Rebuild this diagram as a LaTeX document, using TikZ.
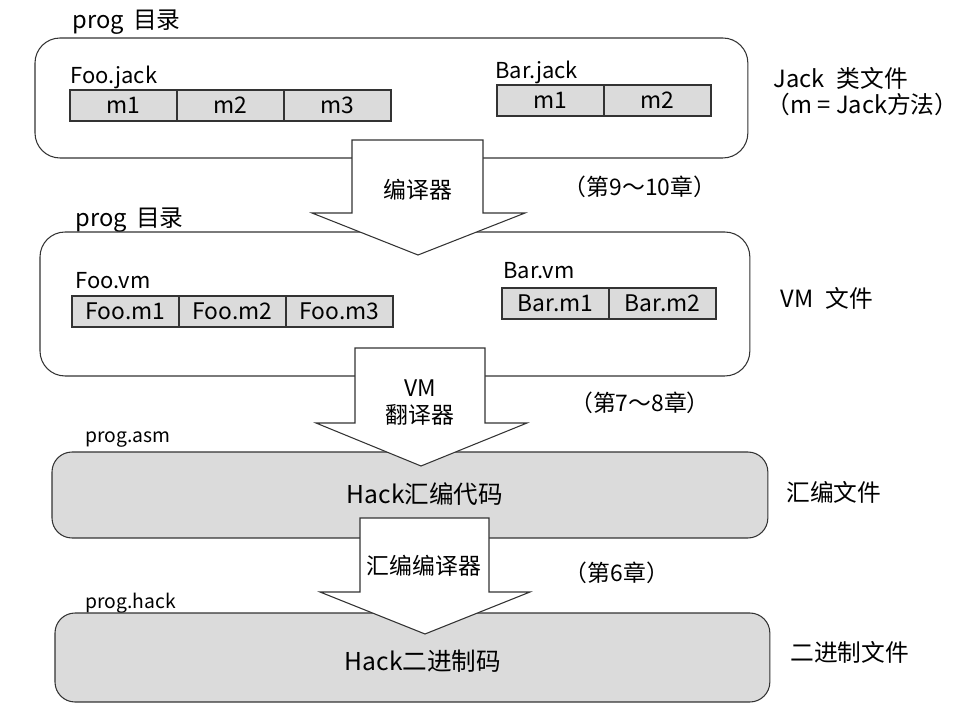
\documentclass[tikz,border=0pt]{standalone}
\usepackage{fontspec}
\setmainfont{Noto Sans CJK SC}
\begin{document}
\begin{tikzpicture}[x=0.02cm,y=-0.02cm,line width=0.6pt,
	box/.style={draw=black!80,rounded corners=0.5cm,anchor=north west,inner sep=0pt,outer sep=0pt},
	cell/.style={draw=black!80,fill=gray!28,anchor=north west,inner sep=0pt,outer sep=0pt,
		minimum width=2.14cm,minimum height=0.62cm,font=\fontsize{13}{14}\selectfont},
	lbl/.style={anchor=west,inner sep=0pt,font=\fontsize{12.5}{14}\selectfont},
	title/.style={anchor=west,inner sep=0pt,font=\fontsize{13.5}{16}\selectfont},
	small/.style={anchor=west,inner sep=0pt,font=\fontsize{11}{13}\selectfont},
	side/.style={anchor=west,inner sep=0pt,font=\fontsize{13.5}{16}\selectfont},
	bigarrow/.style={draw=black!80,fill=white,line join=miter},
	word/.style={inner sep=0pt,font=\fontsize{13}{16}\selectfont}]
	\useasboundingbox (0,0) rectangle (970,714);
	\def \cw {107}
	% Jack files
	\node[title] (dir1) at (72,22) {prog\, 目录};
	\node[box,minimum width=14.26cm,minimum height=2.4cm] (jack) at (35,38) {};
	\node[lbl] (foojack) at (70,77) {Foo.jack};
	\node[cell] (fj1) at (70,90) {m1};
	\node[cell] (fj2) at (70+\cw,90) {m2};
	\node[cell] (fj3) at (70+2*\cw,90) {m3};
	\node[lbl] (barjack) at (495,72) {Bar.jack};
	\node[cell] (bj1) at (497,85) {m1};
	\node[cell] (bj2) at (497+\cw,85) {m2};
	\node[side] (jackside) at (773,78) {Jack\enspace 类文件};
	\node[side] (jackm) at (766,104) {（m = Jack方法）};
	% VM files
	\node[title] (dir2) at (75,220) {prog\, 目录};
	\node[box,minimum width=14.2cm,minimum height=2.88cm] (vm) at (40,232) {};
	\node[lbl] (foovm) at (75,281) {Foo.vm};
	\node[cell] (fv1) at (72,296) {Foo.m1};
	\node[cell] (fv2) at (72+\cw,296) {Foo.m2};
	\node[cell] (fv3) at (72+2*\cw,296) {Foo.m3};
	\node[lbl] (barvm) at (503,271) {Bar.vm};
	\node[cell] (bv1) at (502,288) {Bar.m1};
	\node[cell] (bv2) at (502+\cw,288) {Bar.m2};
	\node[side] (vmside) at (780,298) {VM\enspace 文件};
	% asm file
	\node[small] (asmname) at (85,440) {prog.asm};
	\node[box,fill=gray!28,rounded corners=0.4cm,minimum width=14.32cm,minimum height=1.72cm] (asm) at (52,452) {};
	\node[word,font=\fontsize{14}{16}\selectfont] (asmtext) at (425,494) {Hack汇编代码};
	\node[side] (asmside) at (786,492) {汇编文件};
	% hack file
	\node[small] (hackname) at (85,603) {prog.hack};
	\node[box,fill=gray!28,rounded corners=0.4cm,minimum width=14.3cm,minimum height=1.78cm] (hack) at (55,613) {};
	\node[word,font=\fontsize{14}{16}\selectfont] (hacktext) at (423,661) {Hack二进制码};
	\node[side] (hackside) at (790,652) {二进制文件};
	% arrows
	\draw[bigarrow] (352,140) -- (483,140) -- (483,213) -- (525,213) -- (418,255) -- (312,213) -- (352,213) -- cycle;
	\node[word] (comp) at (418,190) {编译器};
	\node[word] (ch1) at (640,187) {（第9～10章）};
	\draw[bigarrow] (355,348) -- (485,348) -- (485,423) -- (527,423) -- (421,466) -- (316,423) -- (355,423) -- cycle;
	\node[word] (vmtr1) at (420,388) {VM};
	\node[word] (vmtr2) at (420,415) {翻译器};
	\node[word] (ch2) at (640,403) {（第7～8章）};
	\draw[bigarrow] (360,518) -- (489,518) -- (489,592) -- (530,592) -- (425,634) -- (320,592) -- (360,592) -- cycle;
	\node[word] (assem) at (424,566) {汇编编译器};
	\node[word] (ch3) at (617,573) {（第6章）};
\end{tikzpicture}
\end{document}
